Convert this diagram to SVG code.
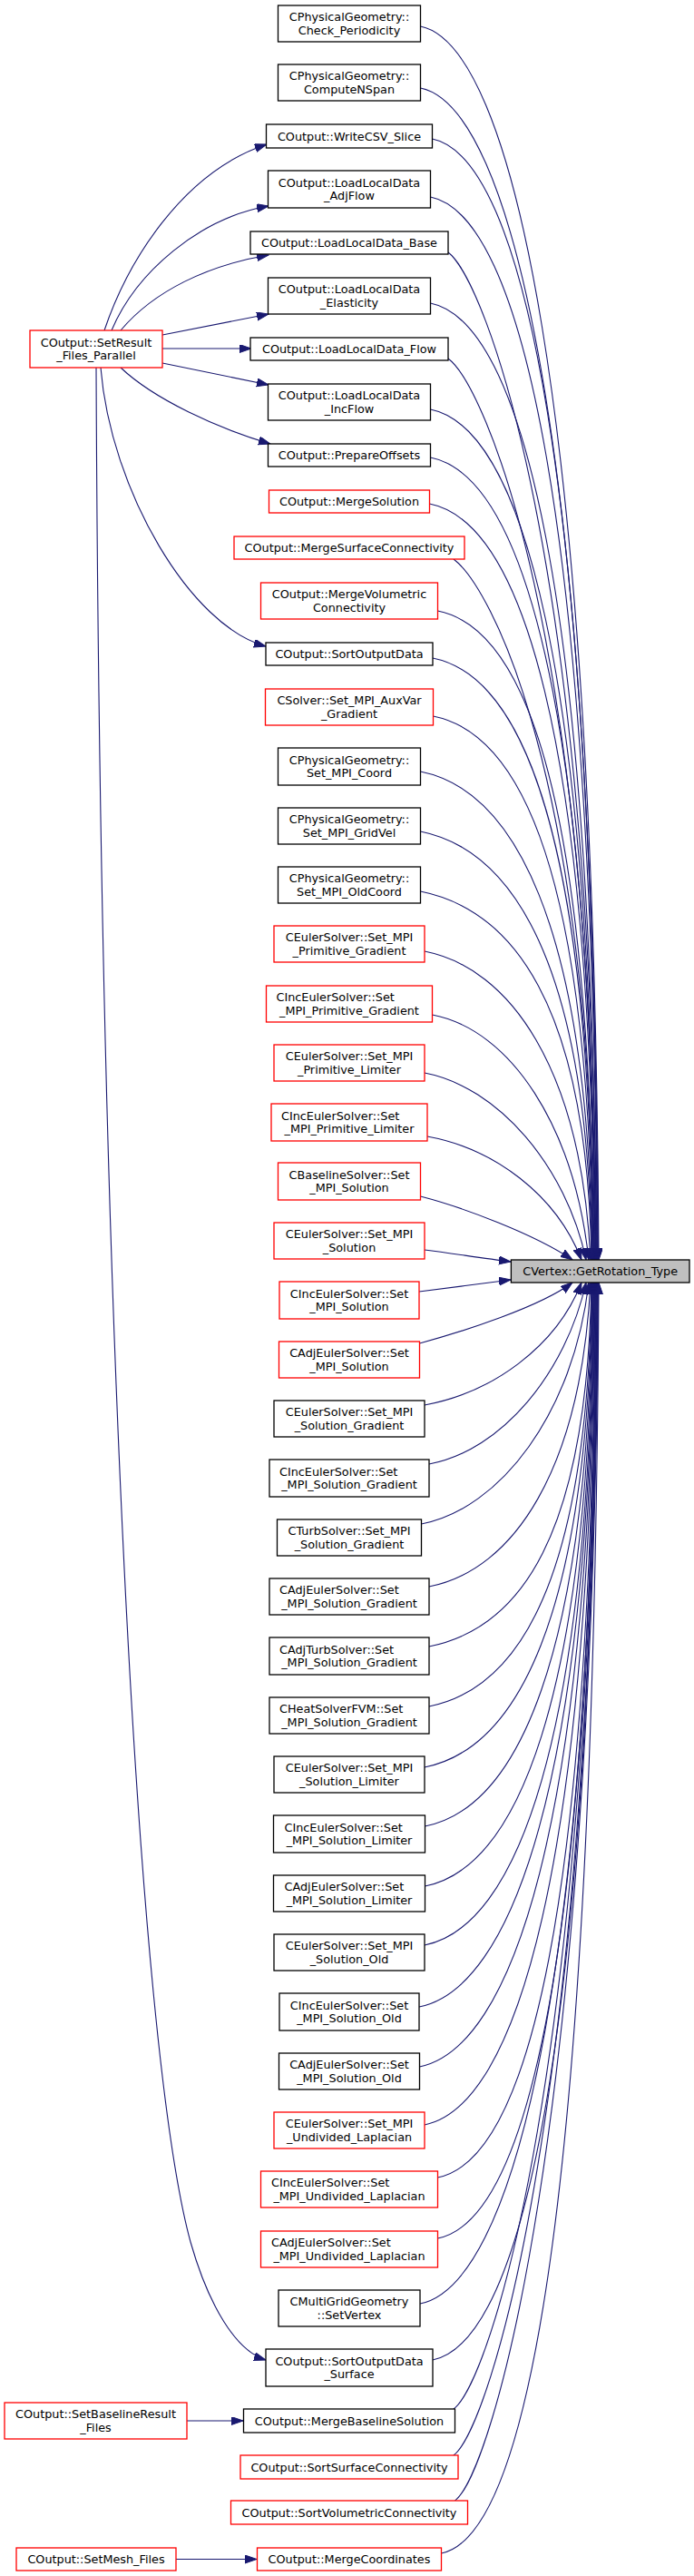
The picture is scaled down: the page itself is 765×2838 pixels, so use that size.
<svg xmlns="http://www.w3.org/2000/svg" width="765" height="2838" viewBox="0 0 765 2838">
<defs>
<style>
rect{fill:#fff;stroke:#000;stroke-width:1.3}
.r rect{stroke:#ff0000}
.root rect{fill:#bfbfbf}
text{font-family:"DejaVu Sans","Liberation Sans",sans-serif;font-size:12.8px;fill:#000}
.c{text-anchor:middle}
#edges path{fill:none;stroke:#191970;stroke-width:1.1;marker-end:url(#ah)}
</style>
<marker id="ah" markerUnits="userSpaceOnUse" markerWidth="14" markerHeight="10" refX="13" refY="4.5" orient="auto"><path d="M0,0 L13,4.5 L0,9 z" fill="#191970" stroke="#191970" stroke-width="1"/></marker>
</defs>
<rect x="0" y="0" width="765" height="2838" style="fill:#fff;stroke:none"/>
<g id="edges">
<path d="M115,364 C140,290 200,190 294,159"/>
<path d="M123,364 C150,300 220,240 296,227"/>
<path d="M133,364 C170,320 230,292 296,281"/>
<path d="M179,369 L296,346"/>
<path d="M179,384 L277,384"/>
<path d="M179,400 L296,424"/>
<path d="M133,405 C170,440 240,472 298,489"/>
<path d="M111,405 C122,540 210,690 293,712"/>
<path d="M106,405 C110,1400 150,2250 210,2470 C230,2540 260,2590 293,2600"/>
<path d="M206,2667 L268,2667"/>
<path d="M194,2819.5 L283,2819.5"/>
<path d="M463.5,29 C563.5,49 655,436.7 660,1388"/>
<path d="M463.5,97 C563.5,117 654.5,484.3 659.5,1388"/>
<path d="M476.5,153 C576.5,173 654,523.5 659,1388"/>
<path d="M474.5,217 C574.5,237 653.5,568 658.5,1388"/>
<path d="M494,278 C534,308 653,611 658,1388"/>
<path d="M474.5,334 C574.5,354 652.5,650 657.5,1388"/>
<path d="M494,395 C534,425 652,693 657,1388"/>
<path d="M474.5,451 C574.5,471 651.5,732 656.5,1388"/>
<path d="M474.5,504 C574.5,524 651,769 656,1388"/>
<path d="M473.5,555 C573.5,575 650.5,805 655.5,1388"/>
<path d="M500,616 C540,646 650,848 655,1388"/>
<path d="M482.5,673 C582.5,693 649.5,887.5 654.5,1388"/>
<path d="M477,725 C577,745 649,924 654,1388"/>
<path d="M477.5,789 C577.5,809 648.5,969 653.5,1388"/>
<path d="M463.5,850 C563.5,870 648,1011 653,1388"/>
<path d="M463.5,916 C563.5,936 647.5,1058 652.5,1388"/>
<path d="M463.5,982 C563.5,1002 647,1104 652,1388"/>
<path d="M468,1048 C562,1066.5 640.75,1176.7 651,1388"/>
<path d="M476.5,1118 C563.5,1134.75 632.6,1240.9 649,1388"/>
<path d="M468,1182 C548.6,1197.2 624,1284.6 646,1388"/>
<path d="M471,1252 C544.6,1265.4 612.9,1316 641,1388"/>
<path d="M463.5,1318 C510,1330 590,1360 631,1388"/>
<path d="M468,1377 C500,1381 530,1386 563,1390"/>
<path d="M462,1423 C495,1419 530,1414 563,1410"/>
<path d="M462.5,1480 C510,1467 595,1440 631,1413"/>
<path d="M468,1548 C541.5,1534.6 612.8,1484.6 641,1413"/>
<path d="M473,1613 C553,1598 623.5,1513 646,1413"/>
<path d="M464.5,1679 C551.1,1662.4 632.3,1556.9 649,1413"/>
<path d="M473,1748 C566.5,1729.6 640.3,1619.1 651,1413"/>
<path d="M473,1814 C573,1794 647,1693.7 652,1413"/>
<path d="M473,1880 C573,1860 647.5,1739.9 652.5,1413"/>
<path d="M468,1947 C568,1927 648,1786.8 653,1413"/>
<path d="M468.5,2012 C568.5,1992 648.5,1832.3 653.5,1413"/>
<path d="M468.5,2078 C568.5,2058 649,1878.5 654,1413"/>
<path d="M468,2143 C568,2123 649.5,1924 654.5,1413"/>
<path d="M462,2211 C562,2191 650,1971.6 655,1413"/>
<path d="M462.5,2277 C562.5,2257 650.5,2017.8 655.5,1413"/>
<path d="M468,2341 C568,2321 651,2062.6 656,1413"/>
<path d="M482.5,2399 C582.5,2379 651.5,2103.2 656.5,1413"/>
<path d="M482.5,2466 C582.5,2446 652,2150.1 657,1413"/>
<path d="M463,2538 C563,2518 652.5,2200.5 657.5,1413"/>
<path d="M477,2600 C577,2580 653,2243.9 658,1413"/>
<path d="M500,2654 C540,2624 653.5,2281.7 658.5,1413"/>
<path d="M500,2705 C540,2675 654,2317.4 659,1413"/>
<path d="M501.5,2755 C541.5,2725 654.5,2352.4 659.5,1413"/>
<path d="M486.5,2813 C586.5,2793 655,2393 660,1413"/>
</g>
<g id="n-root" class="root"><rect x="563.4" y="1388" width="196.6" height="25"/><text class="c" x="661.7" y="1405">CVertex::GetRotation_Type</text></g>
<g id="n-setresult" class="r"><rect x="33" y="364" width="146" height="41"/><text class="c" x="106" y="381.7">COutput::SetResult</text><text class="c" x="106" y="396.1">_Files_Parallel</text></g>
<g id="n-setbaseline" class="r"><rect x="5" y="2647" width="201" height="40"/><text class="c" x="105.5" y="2664.2">COutput::SetBaselineResult</text><text class="c" x="105.5" y="2678.6">_Files</text></g>
<g id="n-setmesh" class="r"><rect x="18" y="2807" width="176" height="25"/><text class="c" x="106" y="2824">COutput::SetMesh_Files</text></g>
<g id="n1"><rect x="306.5" y="6" width="157" height="40"/><text class="c" x="385" y="23.2">CPhysicalGeometry::</text><text class="c" x="385" y="37.6">Check_Periodicity</text></g>
<g id="n2"><rect x="306.5" y="71" width="157" height="40"/><text class="c" x="385" y="88.2">CPhysicalGeometry::</text><text class="c" x="385" y="102.6">ComputeNSpan</text></g>
<g id="n3"><rect x="293.5" y="137" width="183" height="26"/><text class="c" x="385" y="154.5">COutput::WriteCSV_Slice</text></g>
<g id="n4"><rect x="295.5" y="188" width="179" height="41"/><text class="c" x="385" y="205.7">COutput::LoadLocalData</text><text class="c" x="385" y="220.1">_AdjFlow</text></g>
<g id="n5"><rect x="276" y="255" width="218" height="25"/><text class="c" x="385" y="272">COutput::LoadLocalData_Base</text></g>
<g id="n6"><rect x="295.5" y="306" width="179" height="40"/><text class="c" x="385" y="323.2">COutput::LoadLocalData</text><text class="c" x="385" y="337.6">_Elasticity</text></g>
<g id="n7"><rect x="276" y="372" width="218" height="25"/><text class="c" x="385" y="389">COutput::LoadLocalData_Flow</text></g>
<g id="n8"><rect x="295.5" y="423" width="179" height="40"/><text class="c" x="385" y="440.2">COutput::LoadLocalData</text><text class="c" x="385" y="454.6">_IncFlow</text></g>
<g id="n9"><rect x="295.5" y="489" width="179" height="25"/><text class="c" x="385" y="506">COutput::PrepareOffsets</text></g>
<g id="n10" class="r"><rect x="296.5" y="540" width="177" height="25"/><text class="c" x="385" y="557">COutput::MergeSolution</text></g>
<g id="n11" class="r"><rect x="258" y="591" width="254" height="25"/><text class="c" x="385" y="608">COutput::MergeSurfaceConnectivity</text></g>
<g id="n12" class="r"><rect x="287.5" y="642" width="195" height="40"/><text class="c" x="385" y="659.2">COutput::MergeVolumetric</text><text class="c" x="385" y="673.6">Connectivity</text></g>
<g id="n13"><rect x="293" y="708" width="184" height="25"/><text class="c" x="385" y="725">COutput::SortOutputData</text></g>
<g id="n14" class="r"><rect x="292.5" y="759" width="185" height="40"/><text class="c" x="385" y="776.2">CSolver::Set_MPI_AuxVar</text><text class="c" x="385" y="790.6">_Gradient</text></g>
<g id="n15"><rect x="306.5" y="824" width="157" height="41"/><text class="c" x="385" y="841.7">CPhysicalGeometry::</text><text class="c" x="385" y="856.1">Set_MPI_Coord</text></g>
<g id="n16"><rect x="306.5" y="890" width="157" height="40"/><text class="c" x="385" y="907.2">CPhysicalGeometry::</text><text class="c" x="385" y="921.6">Set_MPI_GridVel</text></g>
<g id="n17"><rect x="306.5" y="955" width="157" height="40"/><text class="c" x="385" y="972.2">CPhysicalGeometry::</text><text class="c" x="385" y="986.6">Set_MPI_OldCoord</text></g>
<g id="n18" class="r"><rect x="302" y="1020" width="166" height="40"/><text class="c" x="385" y="1037.2">CEulerSolver::Set_MPI</text><text class="c" x="385" y="1051.6">_Primitive_Gradient</text></g>
<g id="n19" class="r"><rect x="293.5" y="1086" width="183" height="40"/><text x="304.5" y="1103.2">CIncEulerSolver::Set</text><text class="c" x="385" y="1117.6">_MPI_Primitive_Gradient</text></g>
<g id="n20" class="r"><rect x="302" y="1151" width="166" height="40"/><text class="c" x="385" y="1168.2">CEulerSolver::Set_MPI</text><text class="c" x="385" y="1182.6">_Primitive_Limiter</text></g>
<g id="n21" class="r"><rect x="299" y="1216" width="172" height="41"/><text x="310" y="1233.7">CIncEulerSolver::Set</text><text class="c" x="385" y="1248.1">_MPI_Primitive_Limiter</text></g>
<g id="n22" class="r"><rect x="306.5" y="1281" width="157" height="41"/><text class="c" x="385" y="1298.7">CBaselineSolver::Set</text><text class="c" x="385" y="1313.1">_MPI_Solution</text></g>
<g id="n23" class="r"><rect x="302" y="1347" width="166" height="40"/><text class="c" x="385" y="1364.2">CEulerSolver::Set_MPI</text><text class="c" x="385" y="1378.6">_Solution</text></g>
<g id="n24" class="r"><rect x="308" y="1412" width="154" height="41"/><text class="c" x="385" y="1429.7">CIncEulerSolver::Set</text><text class="c" x="385" y="1444.1">_MPI_Solution</text></g>
<g id="n25" class="r"><rect x="307.5" y="1478" width="155" height="40"/><text class="c" x="385" y="1495.2">CAdjEulerSolver::Set</text><text class="c" x="385" y="1509.6">_MPI_Solution</text></g>
<g id="n26"><rect x="302" y="1543" width="166" height="40"/><text class="c" x="385" y="1560.2">CEulerSolver::Set_MPI</text><text class="c" x="385" y="1574.6">_Solution_Gradient</text></g>
<g id="n27"><rect x="297" y="1608" width="176" height="41"/><text x="308" y="1625.7">CIncEulerSolver::Set</text><text class="c" x="385" y="1640.1">_MPI_Solution_Gradient</text></g>
<g id="n28"><rect x="305.5" y="1674" width="159" height="40"/><text class="c" x="385" y="1691.2">CTurbSolver::Set_MPI</text><text class="c" x="385" y="1705.6">_Solution_Gradient</text></g>
<g id="n29"><rect x="297" y="1739" width="176" height="40"/><text x="308" y="1756.2">CAdjEulerSolver::Set</text><text class="c" x="385" y="1770.6">_MPI_Solution_Gradient</text></g>
<g id="n30"><rect x="297" y="1804" width="176" height="41"/><text x="308" y="1821.7">CAdjTurbSolver::Set</text><text class="c" x="385" y="1836.1">_MPI_Solution_Gradient</text></g>
<g id="n31"><rect x="297" y="1870" width="176" height="40"/><text x="308" y="1887.2">CHeatSolverFVM::Set</text><text class="c" x="385" y="1901.6">_MPI_Solution_Gradient</text></g>
<g id="n32"><rect x="302" y="1935" width="166" height="40"/><text class="c" x="385" y="1952.2">CEulerSolver::Set_MPI</text><text class="c" x="385" y="1966.6">_Solution_Limiter</text></g>
<g id="n33"><rect x="301.5" y="2000" width="167" height="41"/><text x="313.5" y="2017.7">CIncEulerSolver::Set</text><text class="c" x="385" y="2032.1">_MPI_Solution_Limiter</text></g>
<g id="n34"><rect x="301.5" y="2066" width="167" height="40"/><text x="313.5" y="2083.2">CAdjEulerSolver::Set</text><text class="c" x="385" y="2097.6">_MPI_Solution_Limiter</text></g>
<g id="n35"><rect x="302" y="2131" width="166" height="40"/><text class="c" x="385" y="2148.2">CEulerSolver::Set_MPI</text><text class="c" x="385" y="2162.6">_Solution_Old</text></g>
<g id="n36"><rect x="308" y="2196" width="154" height="41"/><text class="c" x="385" y="2213.7">CIncEulerSolver::Set</text><text class="c" x="385" y="2228.1">_MPI_Solution_Old</text></g>
<g id="n37"><rect x="307.5" y="2262" width="155" height="40"/><text class="c" x="385" y="2279.2">CAdjEulerSolver::Set</text><text class="c" x="385" y="2293.6">_MPI_Solution_Old</text></g>
<g id="n38" class="r"><rect x="302" y="2327" width="166" height="40"/><text class="c" x="385" y="2344.2">CEulerSolver::Set_MPI</text><text class="c" x="385" y="2358.6">_Undivided_Laplacian</text></g>
<g id="n39" class="r"><rect x="287.5" y="2392" width="195" height="40"/><text x="299" y="2409.2">CIncEulerSolver::Set</text><text class="c" x="385" y="2423.6">_MPI_Undivided_Laplacian</text></g>
<g id="n40" class="r"><rect x="287.5" y="2458" width="195" height="40"/><text x="299" y="2475.2">CAdjEulerSolver::Set</text><text class="c" x="385" y="2489.6">_MPI_Undivided_Laplacian</text></g>
<g id="n41"><rect x="307" y="2523" width="156" height="40"/><text class="c" x="385" y="2540.2">CMultiGridGeometry</text><text class="c" x="385" y="2554.6">::SetVertex</text></g>
<g id="n42"><rect x="293" y="2588" width="184" height="41"/><text class="c" x="385" y="2605.7">COutput::SortOutputData</text><text class="c" x="385" y="2620.1">_Surface</text></g>
<g id="n43"><rect x="268.5" y="2654" width="233" height="26"/><text class="c" x="385" y="2671.5">COutput::MergeBaselineSolution</text></g>
<g id="n44" class="r"><rect x="265" y="2705" width="240" height="26"/><text class="c" x="385" y="2722.5">COutput::SortSurfaceConnectivity</text></g>
<g id="n45" class="r"><rect x="254.5" y="2755" width="261" height="26"/><text class="c" x="385" y="2772.5">COutput::SortVolumetricConnectivity</text></g>
<g id="n46" class="r"><rect x="283.5" y="2807" width="203" height="25"/><text class="c" x="385" y="2824">COutput::MergeCoordinates</text></g>
</svg>
